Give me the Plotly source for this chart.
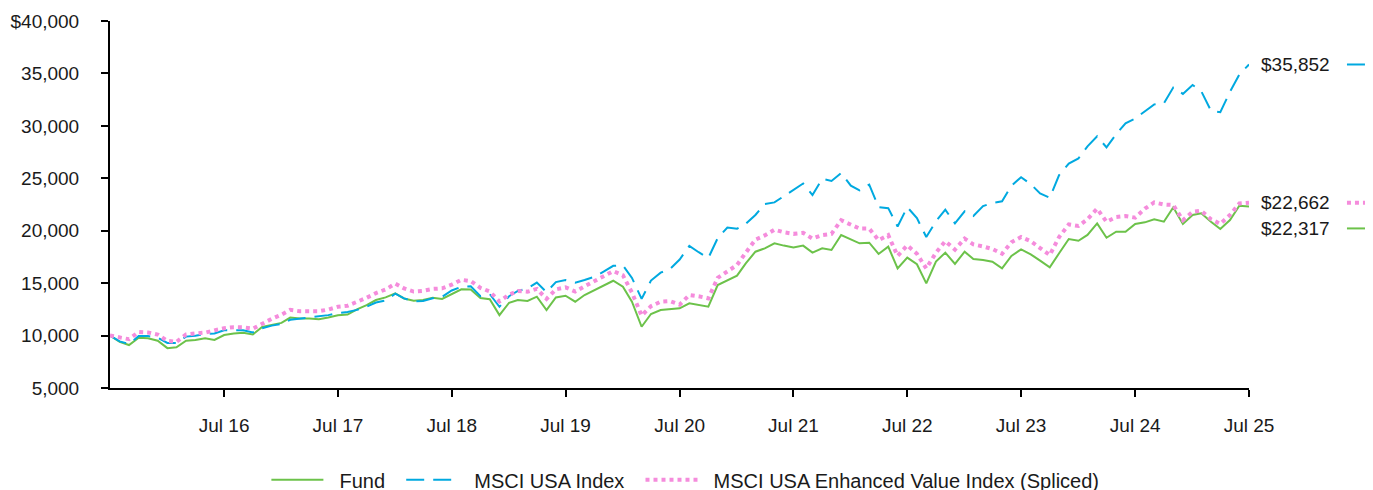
import pandas as pd
import plotly.graph_objects as go

dates = pd.date_range("2015-07-31", periods=121, freq="ME")

fund = [10000, 9400, 9100, 9800, 9740, 9510, 8800, 8880, 9510, 9580, 9740, 9580,
        10050, 10200, 10260, 10100, 10820, 10990, 11210, 11720, 11620, 11620, 11560, 11720,
        11940, 12000, 12500, 12910, 13390, 13640, 14020, 13540, 13320, 13390, 13610, 13490,
        13970, 14410, 14400, 13580, 13470, 11950, 13130, 13390, 13300, 13710, 12440, 13640,
        13800, 13230, 13870, 14340, 14820, 15230, 14660, 13230, 10840, 12060, 12440, 12500,
        12600, 13080, 12910, 12750, 14820, 15300, 15710, 16890, 18000, 18320, 18800, 18580,
        18410, 18580, 17910, 18320, 18160, 19590, 19210, 18800, 18860, 17780, 18480, 16410,
        17430, 16800, 14980, 17050, 17910, 16830, 18000, 17300, 17200, 17050, 16410, 17600,
        18220, 17750, 17140, 16500, 17850, 19210, 19040, 19600, 20700, 19330, 19900, 19900,
        20650, 20800, 21100, 20860, 22230, 20640, 21500, 21660, 20860, 20160, 21020, 22380,
        22317]

msci_usa = [10000, 9450, 9200, 9950, 9950, 9800, 9300, 9300, 9900, 9980, 10150, 10200,
            10500, 10500, 10500, 10300, 10700, 10950, 11100, 11500, 11600, 11700, 11800, 11950,
            12150, 12250, 12450, 12750, 13150, 13350, 14000, 13550, 13250, 13300, 13550, 13700,
            14300, 14650, 14700, 13750, 13950, 12750, 13750, 14250, 14500, 15050, 14150, 15100,
            15300, 15050, 15300, 15600, 16100, 16650, 16700, 15500, 13500, 15250, 16000, 16350,
            17250, 18550, 17950, 17400, 19300, 20300, 20200, 20650, 21500, 22550, 22700, 23300,
            23900, 24500, 23400, 24950, 24750, 25500, 24300, 23850, 24400, 22250, 22150, 20400,
            22250, 21200, 19400, 20900, 22000, 20700, 21850, 21400, 22350, 22650, 22800, 24300,
            25100, 24450, 23550, 23150, 25300, 26400, 26900, 28050, 29000, 27950, 29200, 30250,
            30700, 31350, 32050, 32150, 33650, 33050, 33900, 33300, 31450, 31300, 33250, 34900,
            35852]

enhanced_value = [10000, 9800, 9650, 10350, 10300, 10100, 9500, 9400, 10100, 10200, 10280, 10500,
                  10700, 10800, 10780, 10650, 11150, 11600, 12000, 12450, 12320, 12320, 12320, 12480,
                  12750, 12850, 13200, 13600, 14050, 14400, 14950, 14500, 14200, 14270, 14450, 14500,
                  14850, 15320, 15200, 14550, 14200, 13250, 13900, 14250, 14180, 14450, 13500, 14400,
                  14600, 14200, 14700, 15200, 15600, 16150, 15750, 14100, 11900, 12800, 13230, 13280,
                  12950, 13870, 13750, 13550, 15500, 16150, 16730, 17900, 19150, 19550, 20100, 19850,
                  19700, 19800, 19250, 19580, 19700, 21000, 20550, 20200, 20200, 19100, 19580, 17600,
                  18600, 17800, 16400, 17900, 19000, 18200, 19250, 18700, 18500, 18250, 17800, 18900,
                  19400, 19000, 18350, 17680, 19400, 20600, 20450, 21100, 22100, 20860, 21300, 21400,
                  21250, 22100, 22700, 22500, 22450, 21000, 21800, 21900, 21100, 20650, 21500, 22600,
                  22662]

series_names = ["Fund", "MSCI USA Index", "MSCI USA Enhanced Value Index (Spliced)"]

y_tickvals = [5000, 10000, 15000, 20000, 25000, 30000, 35000, 40000]
y_ticktext = ["5,000", "10,000", "15,000", "20,000", "25,000", "30,000", "35,000", "$40,000"]

x_tickvals = pd.date_range("2016-07-31", periods=10, freq="12ME")
x_ticktext = ["Jul 16", "Jul 17", "Jul 18", "Jul 19", "Jul 20",
              "Jul 21", "Jul 22", "Jul 23", "Jul 24", "Jul 25"]

GREEN = "#6CC24A"
BLUE = "#00A9E0"
PINK = "#F58CDC"
FONT = "Arial, Liberation Sans, sans-serif"
TXT = "#1a1a1a"
NB = "\u00a0"

styles = [
    dict(color=GREEN, width=2, dash="solid"),
    dict(color=BLUE, width=2, dash="18px,9px"),
    dict(color=PINK, width=4, dash="dot"),
]
series = [fund, msci_usa, enhanced_value]

fig = go.Figure()
for name, vals, st in zip(series_names, series, styles):
    fig.add_trace(go.Scatter(x=dates, y=vals, mode="lines",
                             name=NB * 2 + name + NB * 2, line=st))

# end labels
label_shift = [-22, 0, 0]
for vals, st, sh in zip(series, styles, label_shift):
    v = vals[-1]
    fig.add_annotation(x=dates[-1], y=v, xref="x", yref="y", text=f"${v:,.0f}",
                       showarrow=False, xanchor="left", yanchor="middle",
                       xshift=10, yshift=sh, font=dict(family=FONT, size=19, color=TXT))
    fig.add_shape(type="line", xref="paper", yref="y", ysizemode="pixel", yanchor=v,
                  x0=1.086, x1=1.109, y0=sh, y1=sh,
                  line=dict(color=st["color"], width=st["width"], dash=st["dash"]))

fig.update_layout(
    width=1373, height=490,
    margin=dict(l=102, r=132, t=13, b=110, autoexpand=False),
    paper_bgcolor="white", plot_bgcolor="white",
    font=dict(family=FONT, size=19, color=TXT),
    showlegend=True,
    legend=dict(orientation="h", x=0.51, xanchor="center", y=-0.25, yanchor="middle",
                font=dict(family=FONT, size=20, color=TXT), itemwidth=52,
                bgcolor="rgba(0,0,0,0)"),
    xaxis=dict(range=[dates[0], dates[-1]], tickvals=x_tickvals, ticktext=x_ticktext,
               showline=True, linecolor="black", linewidth=2, ticks="outside",
               ticklen=7, tickwidth=2, tickcolor="black", showgrid=False, zeroline=False,
               ticklabelstandoff=12),
    yaxis=dict(range=[5000, 40000], tickvals=y_tickvals, ticktext=y_ticktext,
               showline=True, linecolor="black", linewidth=2, ticks="outside",
               ticklen=7, tickwidth=2, tickcolor="black", showgrid=False, zeroline=False,
               ticklabelstandoff=18),
)

fig.write_html("out.html")
